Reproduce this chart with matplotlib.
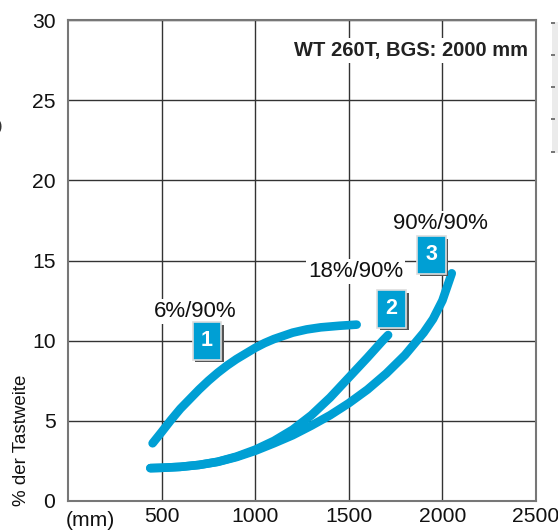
import matplotlib.pyplot as plt
import matplotlib.patheffects as pe
from matplotlib.patches import Rectangle

plt.rcParams['font.family'] = ['Liberation Sans', 'DejaVu Sans']

# curve data (x in mm, y in % der Tastweite)
x1 = [452, 500, 550, 600, 650, 700, 750, 800, 850, 900, 950, 1000, 1050,
      1100, 1150, 1200, 1275, 1350, 1450, 1542]
y1 = [3.6, 4.3, 5.05, 5.75, 6.35, 6.95, 7.5, 8.0, 8.45, 8.85, 9.2, 9.55, 9.85,
      10.1, 10.3, 10.5, 10.7, 10.83, 10.93, 11.0]

x2 = [440, 500, 600, 700, 800, 900, 1000, 1100, 1200, 1300, 1400, 1500, 1600,
      1681, 1710]
y2 = [2.05, 2.07, 2.13, 2.25, 2.45, 2.77, 3.2, 3.75, 4.45, 5.35, 6.45, 7.7, 8.95,
      10.0, 10.35]

x3 = [440, 500, 600, 700, 800, 900, 1000, 1100, 1200, 1300, 1400, 1500, 1600,
      1700, 1800, 1900, 1950, 2000, 2050]
y3 = [2.05, 2.07, 2.13, 2.25, 2.44, 2.74, 3.13, 3.6, 4.1, 4.7, 5.35, 6.1, 6.95,
      7.95, 9.1, 10.5, 11.35, 12.5, 14.2]

xticks = [500, 1000, 1500, 2000, 2500]
yticks = [0, 5, 10, 15, 20, 25, 30]

ratio_labels = ['6%/90%', '18%/90%', '90%/90%']
ratio_pos = [(678, 11.79), (1537, 14.29), (1990, 17.28)]
box_labels = ['1', '2', '3']
box_pos = [(742, 9.98), (1729, 11.98), (1942, 15.35)]

blue = '#009fd4'

fig = plt.figure(figsize=(5.58, 5.31), dpi=100)
ax = fig.add_axes([68 / 558, 30 / 531, 468 / 558, 481 / 531])

for xs, ys in [(x1, y1), (x2, y2), (x3, y3)]:
    ax.plot(xs, ys, color=blue, lw=6.2, solid_capstyle='round',
            solid_joinstyle='round', zorder=3)

ax.set_xlim(0, 2500)
ax.set_ylim(0, 30)
ax.set_xticks(xticks)
ax.set_yticks(yticks)
ax.tick_params(length=0, labelsize=15.2, colors='#111111')
ax.tick_params(axis='x', pad=4)
ax.tick_params(axis='y', pad=9)
ax.grid(True, color='#333333', lw=1)
ax.set_axisbelow(True)
for s in ax.spines.values():
    s.set_color('#777777')
    s.set_linewidth(1.5)

ax.text(2455, 28.1, 'WT 260T, BGS: 2000 mm', fontsize=14.5, fontweight='bold',
        ha='right', va='center', color='#222222', zorder=4,
        bbox=dict(facecolor='white', edgecolor='none', pad=2))

for lab, (px, py) in zip(ratio_labels, ratio_pos):
    ax.text(px, py, lab, fontsize=16, ha='center', va='center', color='#111111',
            zorder=4, bbox=dict(facecolor='white', edgecolor='none', pad=1.5))

for lab, (px, py) in zip(box_labels, box_pos):
    t = ax.text(px, py, lab, fontsize=15.5, fontweight='bold', color='white',
                ha='center', va='center', zorder=5,
                bbox=dict(boxstyle='square,pad=0.38', facecolor=blue,
                          edgecolor='#dddddd', lw=1.2))
    t.get_bbox_patch().set_path_effects([
        pe.withSimplePatchShadow(offset=(2, -2), shadow_rgbFace='#555555', alpha=1.0)])

fig.text(22 / 558, 1 - 440 / 531, '% der Tastweite', rotation=90, fontsize=13.5,
         ha='center', va='center', color='#111111')
fig.text(66 / 558, 1 - 520 / 531, '(mm)', fontsize=15.2, ha='left', va='center',
         color='#111111')
fig.text(-0.006, 1 - 127 / 531, ')', fontsize=12, ha='left', va='center', color='#333333')

# fragment of neighbouring table at the right edge
fig.patches.append(Rectangle((552 / 558, 1 - 153 / 531), 6 / 558, 131 / 531,
                             transform=fig.transFigure, facecolor='#ebebeb',
                             edgecolor='none'))
for yy in [23, 55, 87, 119, 152]:
    fig.patches.append(Rectangle((551 / 558, 1 - (yy + 1) / 531), 4 / 558, 2 / 531,
                                 transform=fig.transFigure, facecolor='#777777',
                                 edgecolor='none'))

fig.savefig('out.png', dpi=100)
